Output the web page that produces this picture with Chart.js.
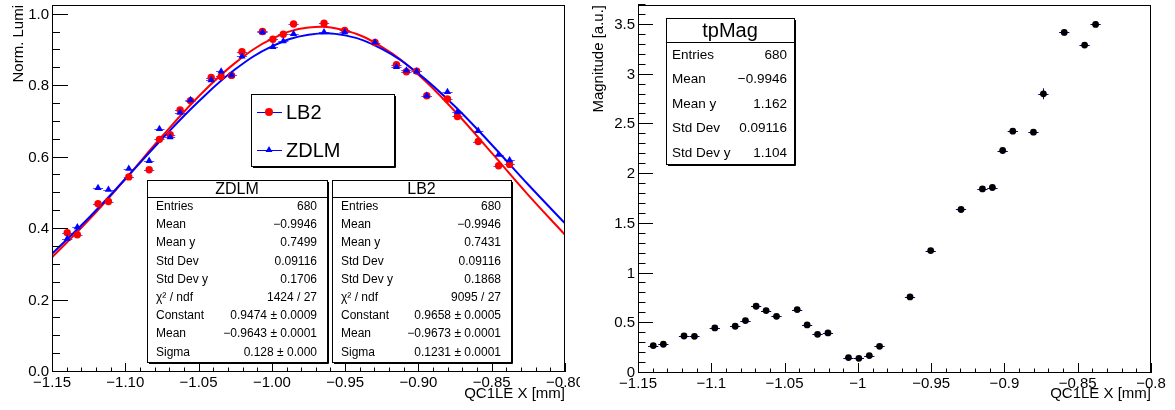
<!DOCTYPE html>
<html>
<head>
<meta charset="utf-8">
<script src="https://cdn.jsdelivr.net/npm/chart.js@4.4.1/dist/chart.umd.min.js"></script>
<style>
  html, body { margin: 0; padding: 0; background: #fff; }
  #wrap { position: relative; width: 1175px; height: 410px; }
  #lumi { position: absolute; left: 0; top: 0; }
  #mag { position: absolute; left: 580px; top: 0; }
</style>
</head>
<body>
<div id="wrap">
  <canvas id="lumi" width="580" height="410"></canvas>
  <canvas id="mag" width="595" height="410"></canvas>
</div>
<script>
// bin centres (QC1LE X [mm])
const xPos = [-1.1396, -1.1327, -1.1186, -1.1115, -1.0976, -1.0837, -1.0767, -1.0694, -1.0626, -1.0555,
              -1.0414, -1.0346, -1.0275, -1.0204, -1.0064, -0.9993, -0.9922, -0.9852, -0.9644, -0.9503,
              -0.9296, -0.9150, -0.9082, -0.9012, -0.8943, -0.8802, -0.8734, -0.8592, -0.8453, -0.8378];

// normalised lumi
const lb2 = [0.390, 0.384, 0.471, 0.477, 0.546, 0.566, 0.651, 0.664, 0.733, 0.759,
             0.824, 0.827, 0.830, 0.896, 0.953, 0.931, 0.945, 0.974, 0.976, 0.956,
             0.922, 0.860, 0.840, 0.842, 0.773, 0.764, 0.715, 0.645, 0.577, 0.581];
const zdlm = [0.373, 0.405, 0.515, 0.510, 0.569, 0.591, 0.680, 0.657, 0.726, 0.761,
              0.817, 0.841, 0.831, 0.883, 0.951, 0.910, 0.926, 0.946, 0.951, 0.951,
              0.922, 0.854, 0.844, 0.841, 0.773, 0.784, 0.728, 0.675, 0.608, 0.593];

const fitX = [-1.15, -1.125, -1.10, -1.075, -1.05, -1.025, -1.00, -0.975, -0.95, -0.925, -0.90, -0.875, -0.85, -0.825, -0.80];
const lb2Fit = [0.321, 0.425, 0.540, 0.659, 0.771, 0.865, 0.932, 0.964, 0.956, 0.910, 0.832, 0.729, 0.613, 0.495, 0.384];
const zdlmFit = [0.331, 0.431, 0.540, 0.652, 0.757, 0.847, 0.911, 0.944, 0.942, 0.904, 0.835, 0.743, 0.636, 0.524, 0.416];

// tpMag magnitude
const tpMag = [0.276, 0.289, 0.372, 0.369, 0.453, 0.470, 0.527, 0.671, 0.628, 0.570,
               0.638, 0.483, 0.389, 0.403, 0.155, 0.148, 0.175, 0.268, 0.765, 1.231,
               1.644, 1.851, 1.865, 2.237, 2.431, 2.421, 2.807, 3.424, 3.297, 3.505];
const tpMagErr = [0.01, 0.01, 0.01, 0.01, 0.01, 0.01, 0.01, 0.01, 0.01, 0.01,
                  0.01, 0.01, 0.01, 0.01, 0.01, 0.01, 0.01, 0.01, 0.02, 0.02,
                  0.02, 0.02, 0.02, 0.02, 0.02, 0.02, 0.055, 0.03, 0.03, 0.03];
const binHalf = 0.0035;

const zdlmStats = [['Entries', '680'], ['Mean', '\u22120.9946'], ['Mean y', '0.7499'], ['Std Dev', '0.09116'],
                   ['Std Dev y', '0.1706'], ['\u03c7\u00b2 / ndf', '1424 / 27'], ['Constant', '0.9474 \u00b1 0.0009'],
                   ['Mean', '\u22120.9643 \u00b1 0.0001'], ['Sigma', '0.128 \u00b1 0.000']];
const lb2Stats = [['Entries', '680'], ['Mean', '\u22120.9946'], ['Mean y', '0.7431'], ['Std Dev', '0.09116'],
                  ['Std Dev y', '0.1868'], ['\u03c7\u00b2 / ndf', '9095 / 27'], ['Constant', '0.9658 \u00b1 0.0005'],
                  ['Mean', '\u22120.9673 \u00b1 0.0001'], ['Sigma', '0.1231 \u00b1 0.0001']];
const tpMagStats = [['Entries', '680'], ['Mean', '\u22120.9946'], ['Mean y', '1.162'], ['Std Dev', '0.09116'], ['Std Dev y', '1.104']];

const FONT = "'Liberation Sans', Arial, Helvetica, sans-serif";
Chart.defaults.font.family = FONT;
Chart.defaults.color = '#000';

function pts(xs, ys) {
    return xs.map((x, i) => ({x: x, y: ys[i]}));
}

function paveBox(ctx, b) {
    ctx.fillStyle = '#fff';
    ctx.fillRect(b.x, b.y, b.w, b.h);
    ctx.strokeStyle = '#000';
    ctx.lineWidth = 1;
    ctx.strokeRect(b.x + 0.5, b.y + 0.5, b.w, b.h);
    ctx.beginPath();
    ctx.moveTo(b.x + b.w + 1.5, b.y + 2);
    ctx.lineTo(b.x + b.w + 1.5, b.y + b.h + 1.5);
    ctx.lineTo(b.x + 2, b.y + b.h + 1.5);
    ctx.stroke();
}

function statsBox(ctx, s) {
    paveBox(ctx, s);
    ctx.beginPath();
    ctx.moveTo(s.x, s.y + s.titleH + 0.5);
    ctx.lineTo(s.x + s.w, s.y + s.titleH + 0.5);
    ctx.stroke();
    ctx.fillStyle = '#000';
    ctx.textBaseline = 'middle';
    ctx.textAlign = 'center';
    ctx.font = s.titleSize + 'px ' + FONT;
    ctx.fillText(s.title, s.x + s.w / 2, s.y + s.titleH / 2 + 1);
    ctx.font = s.rowSize + 'px ' + FONT;
    s.rows.forEach((r, i) => {
        const ty = s.firstRow + i * s.rowStep;
        ctx.textAlign = 'left';
        ctx.fillText(r[0], s.x + s.padL, ty);
        ctx.textAlign = 'right';
        ctx.fillText(r[1], s.x + s.w - s.padR, ty);
    });
}

function marker(ctx, style, x, y, r, color) {
    ctx.fillStyle = color;
    ctx.beginPath();
    if (style === 'triangle') {
        ctx.moveTo(x, y - r);
        ctx.lineTo(x + r * 0.866, y + r * 0.5);
        ctx.lineTo(x - r * 0.866, y + r * 0.5);
        ctx.closePath();
    } else {
        ctx.arc(x, y, r, 0, Math.PI * 2);
    }
    ctx.fill();
}

// ROOT-like frame, inside ticks, error bars and boxes
const rootAxes = {
    id: 'rootAxes',
    beforeDatasetsDraw(chart) {
        const {ctx, scales: {x, y}} = chart;
        ctx.save();
        ctx.lineWidth = 1;
        chart.data.datasets.forEach(ds => {
            if (!ds.xErr) return;
            ctx.strokeStyle = ds.errColor;
            ds.data.forEach((p, i) => {
                const py = Math.round(y.getPixelForValue(p.y)) + 0.5;
                ctx.beginPath();
                ctx.moveTo(x.getPixelForValue(p.x - ds.xErr), py);
                ctx.lineTo(x.getPixelForValue(p.x + ds.xErr), py);
                if (ds.yErr) {
                    const px = Math.round(x.getPixelForValue(p.x)) + 0.5;
                    ctx.moveTo(px, y.getPixelForValue(p.y - ds.yErr[i]));
                    ctx.lineTo(px, y.getPixelForValue(p.y + ds.yErr[i]));
                }
                ctx.stroke();
            });
        });
        ctx.restore();
    },
    afterDraw(chart, args, o) {
        const {ctx, chartArea: a, scales: {x, y}} = chart;
        ctx.save();
        ctx.strokeStyle = '#000';
        ctx.lineWidth = 1;
        ctx.strokeRect(a.left + 0.5, a.top + 0.5, a.right - a.left - 1, a.bottom - a.top - 1);
        ctx.beginPath();
        for (let k = Math.ceil(x.min / o.xStep - 1e-6); k <= Math.floor(x.max / o.xStep + 1e-6); k++) {
            const px = Math.round(x.getPixelForValue(k * o.xStep)) + 0.5;
            const len = (k % o.xEvery === 0) ? o.xLen[0] : o.xLen[1];
            ctx.moveTo(px, a.bottom);
            ctx.lineTo(px, a.bottom - len);
        }
        for (let k = Math.ceil(y.min / o.yStep - 1e-6); k <= Math.floor(y.max / o.yStep + 1e-6); k++) {
            const py = Math.round(y.getPixelForValue(k * o.yStep)) - 0.5;
            const len = (k % o.yEvery === 0) ? o.yLen[0] : o.yLen[1];
            ctx.moveTo(a.left, py);
            ctx.lineTo(a.left + len, py);
        }
        ctx.stroke();

        (o.boxes || []).forEach(b => statsBox(ctx, b));

        if (o.legend) {
            const L = o.legend;
            paveBox(ctx, L);
            L.items.forEach(it => {
                ctx.strokeStyle = '#0000ff';
                ctx.lineWidth = 1;
                ctx.beginPath();
                ctx.moveTo(L.x + 6, it.y + 0.5);
                ctx.lineTo(L.x + 31, it.y + 0.5);
                ctx.stroke();
                marker(ctx, it.style, L.x + 18, it.y, 4, it.color);
                ctx.fillStyle = '#000';
                ctx.font = '20px ' + FONT;
                ctx.textAlign = 'left';
                ctx.textBaseline = 'middle';
                ctx.fillText(it.text, L.x + 35, it.y + 1);
            });
        }
        ctx.restore();
    }
};

function xScale(min, max, height, fmt) {
    return {
        type: 'linear', min: min, max: max,
        afterFit: s => { s.height = height; s.paddingLeft = 0; s.paddingRight = 0; },
        ticks: {stepSize: 0.05, includeBounds: false, autoSkip: false, maxRotation: 0,
                padding: 1.5, font: {size: 15}, color: '#000', callback: fmt},
        grid: {display: false, drawTicks: false},
        border: {display: false},
        title: {display: true, text: 'QC1LE X [mm]', align: 'end', color: '#000',
                font: {size: 15}, padding: {top: 0, bottom: 7}}
    };
}

function yScale(max, step, width, fmt, title) {
    return {
        type: 'linear', min: 0, max: max,
        afterFit: s => { s.width = width; s.paddingTop = 0; s.paddingBottom = 0; },
        ticks: {stepSize: step, includeBounds: false, padding: 3, font: {size: 15}, color: '#000', callback: fmt},
        grid: {display: false, drawTicks: false},
        border: {display: false},
        title: {display: true, text: title, align: 'end', color: '#000',
                font: {size: 15}, padding: {top: 9.5, bottom: 0}}
    };
}

const minus = s => s.replace('-', '\u2212');

new Chart(document.getElementById('lumi'), {
    type: 'scatter',
    data: {
        datasets: [
            {label: 'ZDLM', data: pts(xPos, zdlm), pointStyle: 'triangle', pointRadius: 4.2,
             pointBackgroundColor: '#0000ff', pointBorderWidth: 0, xErr: binHalf, errColor: '#5050ff'},
            {label: 'LB2', data: pts(xPos, lb2), pointStyle: 'circle', pointRadius: 3.7,
             pointBackgroundColor: '#ff0000', pointBorderWidth: 0, xErr: binHalf, errColor: '#5050ff'},
            {label: 'ZDLM fit', data: pts(fitX, zdlmFit), showLine: true, pointRadius: 0,
             borderColor: '#0000ff', borderWidth: 2, tension: 0.4},
            {label: 'LB2 fit', data: pts(fitX, lb2Fit), showLine: true, pointRadius: 0,
             borderColor: '#ff0000', borderWidth: 2, tension: 0.4}
        ]
    },
    options: {
        responsive: false,
        animation: false,
        layout: {padding: {top: 5, right: 15, left: 0, bottom: 0}},
        plugins: {
            legend: {display: false},
            tooltip: {enabled: false},
            rootAxes: {
                xStep: 0.01, xEvery: 5, xLen: [9, 4.5],
                yStep: 0.05, yEvery: 4, yLen: [16, 8],
                boxes: [
                    {x: 147, y: 180, w: 180, h: 182, title: 'ZDLM', titleH: 17, titleSize: 16,
                     rowSize: 12, firstRow: 206.7, rowStep: 18.2, padL: 9, padR: 10, rows: zdlmStats},
                    {x: 332, y: 180, w: 179, h: 182, title: 'LB2', titleH: 17, titleSize: 16,
                     rowSize: 12, firstRow: 206.7, rowStep: 18.2, padL: 9, padR: 10, rows: lb2Stats}
                ],
                legend: {x: 251, y: 94, w: 143, h: 72, items: [
                    {text: 'LB2', style: 'circle', color: '#ff0000', y: 112},
                    {text: 'ZDLM', style: 'triangle', color: '#0000ff', y: 150}
                ]}
            }
        },
        scales: {
            x: xScale(-1.15, -0.80, 38, v => minus(v.toFixed(2))),
            y: yScale(1.027, 0.2, 52, v => v.toFixed(1), 'Norm. Lumi')
        }
    },
    plugins: [rootAxes]
});

new Chart(document.getElementById('mag'), {
    type: 'scatter',
    data: {
        datasets: [
            {label: 'tpMag', data: pts(xPos, tpMag), pointStyle: 'circle', pointRadius: 3.4,
             pointBackgroundColor: '#000', pointBorderWidth: 0,
             xErr: binHalf, yErr: tpMagErr, errColor: '#00008b'}
        ]
    },
    options: {
        responsive: false,
        animation: false,
        layout: {padding: {top: 5, right: 24, left: 0, bottom: 0}},
        plugins: {
            legend: {display: false},
            tooltip: {enabled: false},
            rootAxes: {
                xStep: 0.01, xEvery: 5, xLen: [10, 4.5],
                yStep: 0.1, yEvery: 5, yLen: [15, 7.5],
                boxes: [
                    {x: 86, y: 18, w: 128, h: 146, title: 'tpMag', titleH: 24, titleSize: 20,
                     rowSize: 13.5, firstRow: 55, rowStep: 24.5, padL: 6, padR: 7, rows: tpMagStats}
                ]
            }
        },
        scales: {
            x: xScale(-1.15, -0.80, 37, v => minus(String(Math.round(Math.abs(v) * 100) / 100 * Math.sign(v)))),
            y: yScale(3.70, 0.5, 58, v => String(Math.round(v * 10) / 10), 'Magnitude [a.u.]')
        }
    },
    plugins: [rootAxes]
});
</script>
</body>
</html>
